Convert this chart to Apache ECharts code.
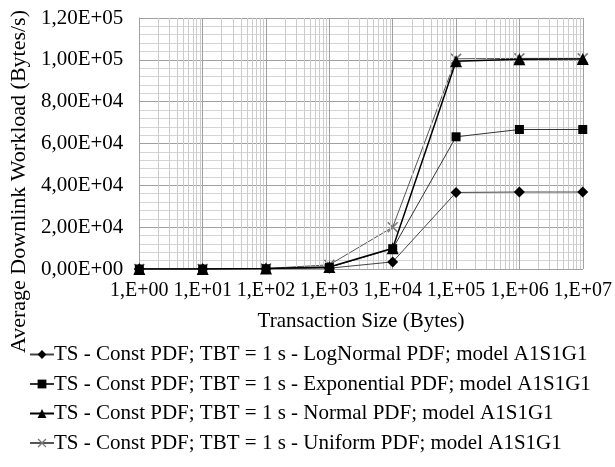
<!DOCTYPE html>
<html>
<head>
<meta charset="utf-8">
<script src="https://cdn.jsdelivr.net/npm/echarts@6/dist/echarts.min.js"></script>
<style>html,body{margin:0;padding:0;background:#fff;}#c{width:615px;height:467px;}</style>
</head>
<body>
<div id="c"></div>
<script>
var xValues = [1, 10, 100, 1000, 10000, 100000, 1000000, 10000000];
var logNormal = [0, 0, 100, 400, 3400, 36600, 36800, 36800];
var exponential = [0, 0, 150, 800, 9700, 63200, 66700, 66700];
var normal = [0, 0, 200, 1000, 9900, 99300, 100300, 100400];
var uniform = [0, 0, 250, 2000, 20000, 100500, 100700, 100700];
var seriesNames = [
  'TS - Const PDF; TBT = 1 s - LogNormal PDF; model A1S1G1',
  'TS - Const PDF; TBT = 1 s - Exponential PDF; model A1S1G1',
  'TS - Const PDF; TBT = 1 s - Normal PDF; model A1S1G1',
  'TS - Const PDF; TBT = 1 s - Uniform PDF; model A1S1G1'
];
var minorX = [2,3,4,5,6,7,8,9,20,30,40,50,60,70,80,90,200,300,400,500,600,700,800,900,
  2000,3000,4000,5000,6000,7000,8000,9000,20000,30000,40000,50000,60000,70000,80000,90000,
  200000,300000,400000,500000,600000,700000,800000,900000,2000000,3000000,4000000,5000000,6000000,7000000,8000000,9000000];

var FONT = '"Liberation Serif", "Times New Roman", serif';
function sci(v) {
  if (v === 0) return '0,00E+00';
  var e = Math.floor(Math.log10(Math.abs(v)) + 1e-9);
  var m = v / Math.pow(10, e);
  var es = (e < 10 ? '0' : '') + e;
  return m.toFixed(2).replace('.', ',') + 'E+' + es;
}
function xlab(v) {
  var e = Math.round(Math.log10(v));
  return '1,E+' + (e < 10 ? '0' : '') + e;
}
function pairs(arr) { return xValues.map(function (x, i) { return [x, arr[i]]; }); }

var crossPath = 'path://M0,1L1,0L5,4L9,0L10,1L6,5L10,9L9,10L5,6L1,10L0,9L4,5Z';

var chart = echarts.init(document.getElementById('c'), null, {renderer: 'canvas'});
chart.setOption({
  animation: false,
  backgroundColor: '#fff',
  textStyle: {fontFamily: FONT, color: '#000'},
  grid: {left: 135, right: 30, top: 18, bottom: 198, containLabel: false},
  xAxis: {
    type: 'log', logBase: 10, min: 1, max: 10000000,
    name: 'Transaction Size (Bytes)', nameLocation: 'middle', nameGap: 42,
    nameTextStyle: {fontFamily: FONT, fontSize: 21, color: '#000'},
    axisLine: {show: true, lineStyle: {color: '#a0a0a0', width: 1}},
    axisTick: {show: false},
    axisLabel: {formatter: xlab, fontFamily: FONT, fontSize: 20, color: '#000', margin: 12},
    splitLine: {show: true, lineStyle: {color: '#a0a0a0', width: 1}}
  },
  yAxis: {
    type: 'value', min: 0, max: 120000, interval: 20000,
    name: 'Average Downlink Workload (Bytes/s)', nameLocation: 'middle', nameGap: 105,
    nameTextStyle: {fontFamily: FONT, fontSize: 22, color: '#000', padding: [0, 76, 0, 0]},
    axisLine: {show: true, lineStyle: {color: '#a0a0a0', width: 1}},
    axisTick: {show: false},
    axisLabel: {formatter: sci, fontFamily: FONT, fontSize: 21, color: '#000', margin: 16},
    splitLine: {show: true, lineStyle: {color: '#a0a0a0', width: 1}},
    minorTick: {show: false, splitNumber: 5},
    minorSplitLine: {show: true, lineStyle: {color: '#d4d4d4', width: 1}}
  },
  legend: {
    orient: 'vertical', left: 24, top: 339, itemGap: 8.5, itemWidth: 24, itemHeight: 11,
    data: seriesNames,
    textStyle: {fontFamily: FONT, fontSize: 21, color: '#000', padding: [0, 0, 0, -5]}
  },
  series: [
    {
      name: 'minor', type: 'line', data: [], silent: true,
      markLine: {
        silent: true, symbol: ['none', 'none'], label: {show: false},
        lineStyle: {color: '#cccccc', width: 1, type: 'solid'},
        data: minorX.map(function (v) { return {xAxis: v}; })
      }
    },
    {
      name: seriesNames[0], type: 'line', data: pairs(logNormal),
      symbol: 'diamond', symbolSize: 11, z: 5,
      lineStyle: {color: '#444', width: 1}, itemStyle: {color: '#000'}
    },
    {
      name: seriesNames[1], type: 'line', data: pairs(exponential),
      symbol: 'rect', symbolSize: 9, z: 5,
      lineStyle: {color: '#333', width: 1}, itemStyle: {color: '#000'}
    },
    {
      name: seriesNames[2], type: 'line', data: pairs(normal),
      symbol: 'triangle', symbolSize: 12, z: 5,
      lineStyle: {color: '#000', width: 1.5}, itemStyle: {color: '#000'}
    },
    {
      name: seriesNames[3], type: 'line', data: pairs(uniform),
      symbol: crossPath, symbolSize: 11, z: 4,
      lineStyle: {color: '#555', width: 1}, itemStyle: {color: '#777'}
    }
  ]
});
</script>
</body>
</html>
